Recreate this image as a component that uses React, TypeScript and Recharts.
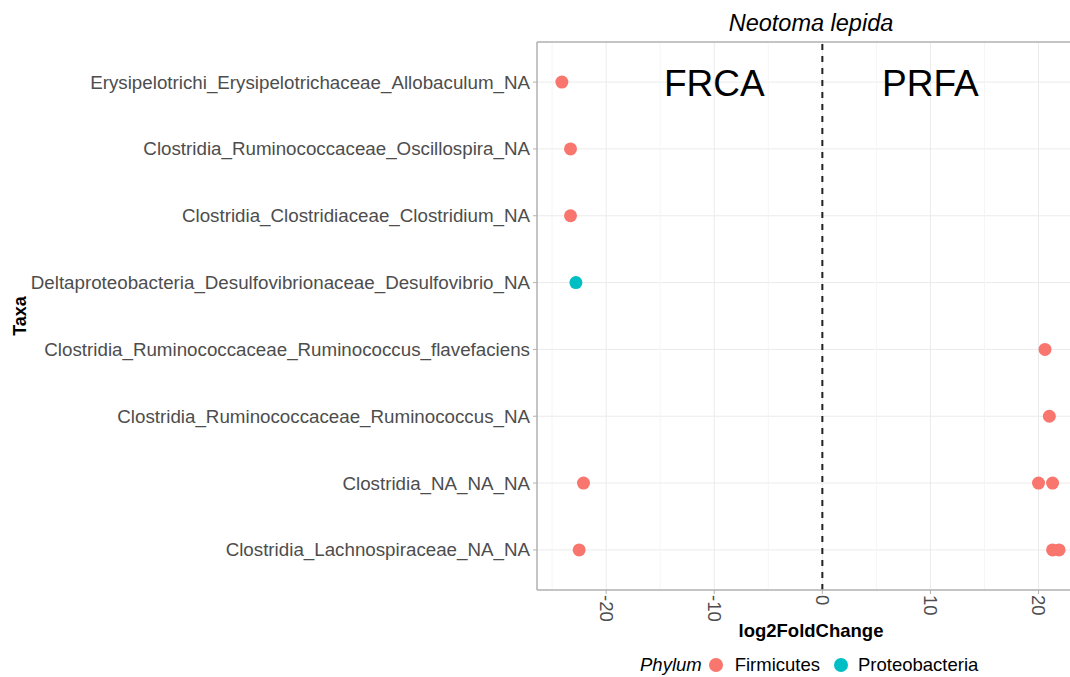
import React from "react";
import {
  ScatterChart,
  Scatter,
  XAxis,
  YAxis,
  CartesianGrid,
  ReferenceLine,
} from "recharts";

// Taxa, top to bottom as drawn
const taxa = [
  "Erysipelotrichi_Erysipelotrichaceae_Allobaculum_NA",
  "Clostridia_Ruminococcaceae_Oscillospira_NA",
  "Clostridia_Clostridiaceae_Clostridium_NA",
  "Deltaproteobacteria_Desulfovibrionaceae_Desulfovibrio_NA",
  "Clostridia_Ruminococcaceae_Ruminococcus_flavefaciens",
  "Clostridia_Ruminococcaceae_Ruminococcus_NA",
  "Clostridia_NA_NA_NA",
  "Clostridia_Lachnospiraceae_NA_NA",
];

// Firmicutes points
const firmicutesTaxa = [
  "Erysipelotrichi_Erysipelotrichaceae_Allobaculum_NA",
  "Clostridia_Ruminococcaceae_Oscillospira_NA",
  "Clostridia_Clostridiaceae_Clostridium_NA",
  "Clostridia_Ruminococcaceae_Ruminococcus_flavefaciens",
  "Clostridia_Ruminococcaceae_Ruminococcus_NA",
  "Clostridia_NA_NA_NA",
  "Clostridia_NA_NA_NA",
  "Clostridia_NA_NA_NA",
  "Clostridia_Lachnospiraceae_NA_NA",
  "Clostridia_Lachnospiraceae_NA_NA",
  "Clostridia_Lachnospiraceae_NA_NA",
];
const firmicutesLFC = [-24.1, -23.3, -23.3, 20.6, 21.0, -22.1, 20.0, 21.3, -22.5, 21.3, 21.9];

// Proteobacteria points
const proteobacteriaTaxa = ["Deltaproteobacteria_Desulfovibrionaceae_Desulfovibrio_NA"];
const proteobacteriaLFC = [-22.8];

// Axis ticks
const xTicks = [-20, -10, 0, 10, 20];
const xMinorTicks = [-25, -15, -5, 5, 15];

// Annotations
const annotationLabels = ["FRCA", "PRFA"];
const annotationX = [-10, 10];

const rowOf = (t: string) => taxa.length - taxa.indexOf(t);
const yTicks = taxa.map((t) => rowOf(t));

const firmicutesData = firmicutesTaxa.map((t, i) => ({ x: firmicutesLFC[i], y: rowOf(t) }));
const proteobacteriaData = proteobacteriaTaxa.map((t, i) => ({ x: proteobacteriaLFC[i], y: rowOf(t) }));
const annotationData = annotationLabels.map((l, i) => ({ x: annotationX[i], y: taxa.length, label: l }));

const FONT = "'Liberation Sans', Arial, Helvetica, sans-serif";
const RED = "#F8766D";
const TEAL = "#00BFC4";
const BORDER = "#b3b3b3";
const TICK_FS = 18.5;

const YTick = (props: any) => {
  const { x, y, payload } = props;
  const label = taxa[taxa.length - payload.value];
  return (
    <text x={x} y={y} dy={6.5} textAnchor="end" fill="#4d4d4d" fontSize={18.75} fontFamily={FONT}>
      {label}
    </text>
  );
};

const XTick = (props: any) => {
  const { x, y, payload } = props;
  return (
    <text
      transform={`translate(${x},${y}) rotate(90)`}
      dy={6.5}
      textAnchor="start"
      fill="#4d4d4d"
      fontSize={TICK_FS}
      fontFamily={FONT}
    >
      {payload.value}
    </text>
  );
};

const AnnotationShape = (props: any) => {
  const { cx, cy, payload } = props;
  return (
    <text x={cx} y={cy} dy={14} textAnchor="middle" fill="#000" fontSize={37} fontFamily={FONT}>
      {payload.label}
    </text>
  );
};

const Dot = (color: string) => (props: any) => {
  const { cx, cy } = props;
  return <circle cx={cx} cy={cy} r={6.5} fill={color} />;
};

const TaxaLabel = (props: any) => {
  const vb = props.viewBox || {};
  const cy = vb.y + vb.height / 2;
  return (
    <text
      transform={`translate(26,${cy}) rotate(-90)`}
      textAnchor="middle"
      fontSize={18}
      fontWeight="bold"
      fontFamily={FONT}
      fill="#000"
    >
      Taxa
    </text>
  );
};

const XLabel = (props: any) => {
  const vb = props.viewBox || {};
  const cx = vb.x + vb.width / 2;
  return (
    <text x={cx} y={637} textAnchor="middle" fontSize={18.5} fontWeight="bold" fontFamily={FONT} fill="#000">
      log2FoldChange
    </text>
  );
};

export default function App() {
  return (
    <div
      style={{
        position: "absolute",
        left: 0,
        top: 0,
        width: 1070,
        height: 677,
        overflow: "hidden",
        background: "#fff",
        fontFamily: FONT,
      }}
    >
      <div
        style={{
          position: "absolute",
          left: 537,
          width: 548,
          top: 9,
          textAlign: "center",
          fontSize: 23.5,
          fontStyle: "italic",
          color: "#000",
          lineHeight: "28px",
        }}
      >
        Neotoma lepida
      </div>
      <ScatterChart
        width={1085}
        height={677}
        margin={{ top: 42, right: 0, bottom: 0, left: 0 }}
      >
        <CartesianGrid stroke="#ebebeb" strokeWidth={1} />
        {xMinorTicks.map((v) => (
          <ReferenceLine key={v} x={v} stroke="#f2f2f2" strokeWidth={0.8} />
        ))}
        <XAxis
          type="number"
          dataKey="x"
          domain={[-26.4, 24.3]}
          ticks={xTicks}
          allowDataOverflow
          height={87}
          tickSize={4}
          tickMargin={1}
          tick={<XTick />}
          axisLine={{ stroke: BORDER, strokeWidth: 1.5 }}
          tickLine={{ stroke: BORDER }}
          label={<XLabel />}
        />
        <YAxis
          type="number"
          dataKey="y"
          domain={[0.4, 8.6]}
          ticks={yTicks}
          allowDataOverflow
          width={537}
          tickSize={4}
          tickMargin={3}
          tick={<YTick />}
          axisLine={{ stroke: BORDER, strokeWidth: 1.5 }}
          tickLine={{ stroke: BORDER }}
          label={<TaxaLabel />}
        />
        <ReferenceLine y={8.6} stroke={BORDER} strokeWidth={1.5} />
        <ReferenceLine x={0} stroke="#222" strokeWidth={2} strokeDasharray="6 6" />
        <Scatter data={firmicutesData} shape={Dot(RED)} isAnimationActive={false} />
        <Scatter data={proteobacteriaData} shape={Dot(TEAL)} isAnimationActive={false} />
        <Scatter data={annotationData} shape={<AnnotationShape />} isAnimationActive={false} />
      </ScatterChart>
      <div
        style={{
          position: "absolute",
          left: 640,
          top: 654,
          display: "flex",
          alignItems: "center",
          fontSize: 18.5,
          color: "#000",
          lineHeight: "22px",
        }}
      >
        <span style={{ fontStyle: "italic" }}>Phylum</span>
        <span
          style={{ display: "inline-block", width: 14, height: 14, borderRadius: 7, background: RED, marginLeft: 7, marginRight: 12 }}
        />
        <span>Firmicutes</span>
        <span
          style={{ display: "inline-block", width: 14, height: 14, borderRadius: 7, background: TEAL, marginLeft: 14, marginRight: 10 }}
        />
        <span>Proteobacteria</span>
      </div>
    </div>
  );
}
